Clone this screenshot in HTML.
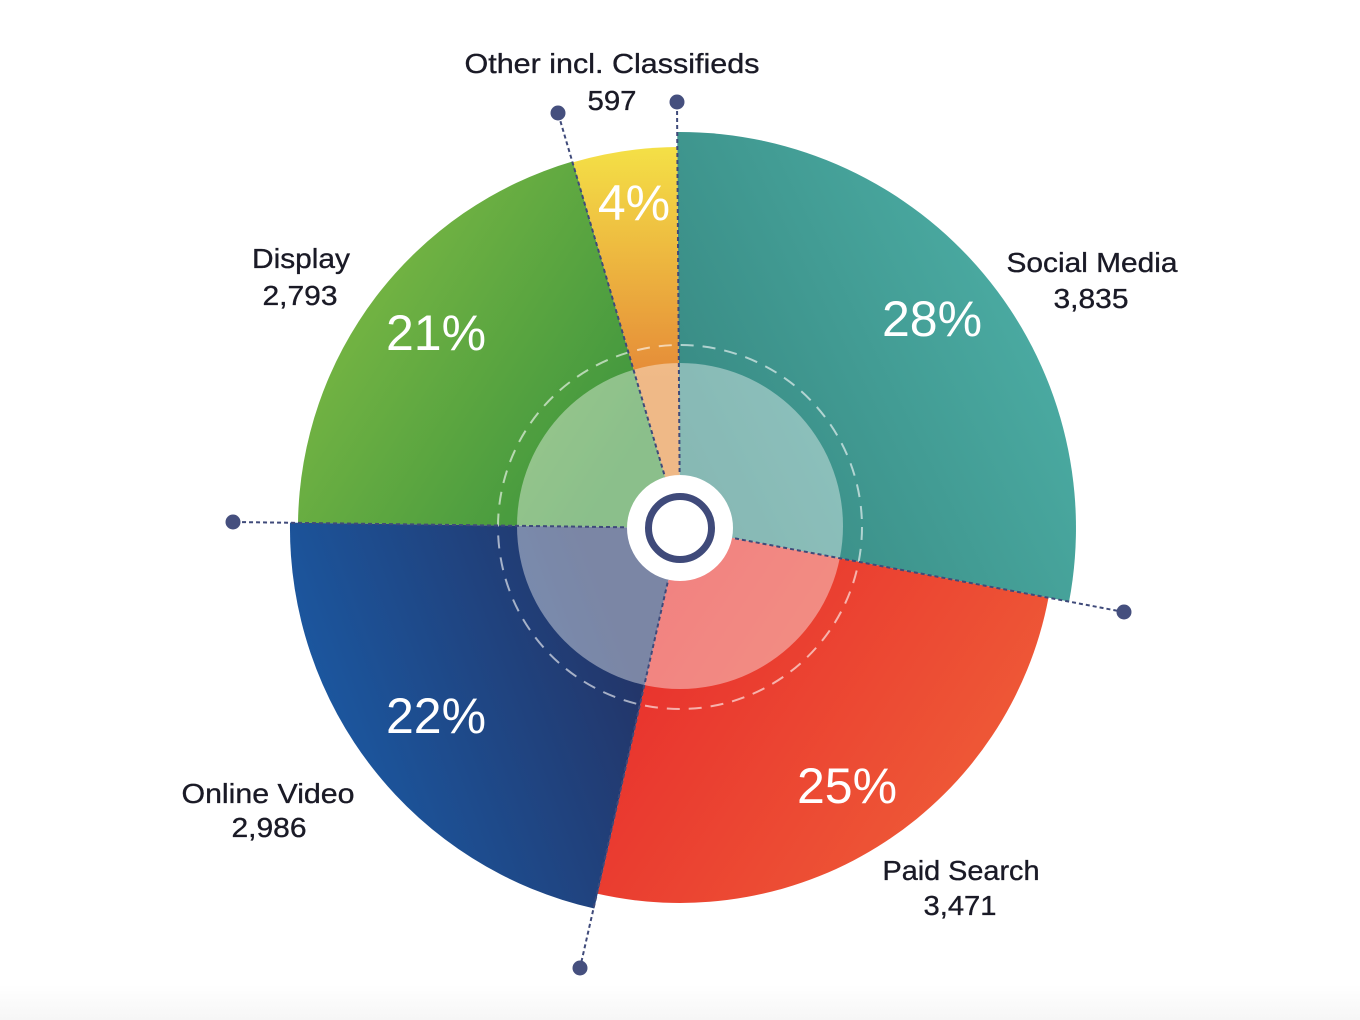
<!DOCTYPE html>
<html>
<head>
<meta charset="utf-8">
<style>
  html, body { margin: 0; padding: 0; background: #ffffff; }
  body { width: 1360px; height: 1020px; overflow: hidden; }
  svg { display: block; }
  .lbl { font-family: "Liberation Sans", sans-serif; font-size: 28px; fill: #1a1a26; stroke: #1a1a26; stroke-width: 0.35; text-anchor: middle; }
  .pct { font-family: "Liberation Sans", sans-serif; font-size: 50px; fill: #ffffff; text-anchor: middle; }
</style>
</head>
<body>
<svg width="1360" height="1020" viewBox="0 0 1360 1020" xmlns="http://www.w3.org/2000/svg">
  <defs>
    <linearGradient id="gTeal" gradientUnits="userSpaceOnUse" x1="700" y1="480" x2="1060" y2="300">
      <stop offset="0" stop-color="#388a83"/>
      <stop offset="1" stop-color="#4cada4"/>
    </linearGradient>
    <linearGradient id="gRed" gradientUnits="userSpaceOnUse" x1="640" y1="620" x2="1000" y2="860">
      <stop offset="0" stop-color="#e8302d"/>
      <stop offset="1" stop-color="#ef5f38"/>
    </linearGradient>
    <linearGradient id="gBlue" gradientUnits="userSpaceOnUse" x1="620" y1="640" x2="300" y2="760">
      <stop offset="0" stop-color="#23366a"/>
      <stop offset="1" stop-color="#1a5ba6"/>
    </linearGradient>
    <linearGradient id="gGreen" gradientUnits="userSpaceOnUse" x1="620" y1="470" x2="320" y2="280">
      <stop offset="0" stop-color="#3e953e"/>
      <stop offset="1" stop-color="#7bb843"/>
    </linearGradient>
    <linearGradient id="gYellow" gradientUnits="userSpaceOnUse" x1="640" y1="380" x2="640" y2="150">
      <stop offset="0" stop-color="#e58a38"/>
      <stop offset="1" stop-color="#f4df46"/>
    </linearGradient>
    <linearGradient id="gBottom" x1="0" y1="0" x2="0" y2="1">
      <stop offset="0" stop-color="#ffffff"/>
      <stop offset="1" stop-color="#f6f6f6"/>
    </linearGradient>
  </defs>

  <rect x="0" y="985" width="1360" height="35" fill="url(#gBottom)"/>

  <!-- slices -->
  <path d="M680 528 L677.24 132.01 A396 396 0 0 1 1069.1 601.5 Z" fill="url(#gTeal)"/>
  <path d="M680 528 L1048.5 597.6 A375 375 0 0 1 597.6 893.8 Z" fill="url(#gRed)"/>
  <path d="M680 528 L594.3 908.5 A390 390 0 0 1 290.0 522.6 Z" fill="url(#gBlue)"/>
  <path d="M680 528 L298.0 522.7 A382 382 0 0 1 572.8 161.4 Z" fill="url(#gGreen)"/>
  <path d="M680 528 L573.1 162.3 A381 381 0 0 1 677.3 147.0 Z" fill="url(#gYellow)"/>

  <!-- inner light overlay -->
  <circle cx="680" cy="526" r="163" fill="#ffffff" fill-opacity="0.4"/>
  <!-- dashed circle -->
  <circle cx="680" cy="527" r="182" fill="none" stroke="#ffffff" stroke-opacity="0.6" stroke-width="2" stroke-dasharray="13 9"/>

  <!-- boundary dotted lines -->
  <g stroke="#3f4a7a" stroke-width="2" stroke-dasharray="4 3" fill="none">
    <line x1="680" y1="528" x2="677" y2="102"/>
    <line x1="680" y1="528" x2="558" y2="113"/>
    <line x1="680" y1="528" x2="233" y2="522"/>
    <line x1="680" y1="528" x2="580" y2="968"/>
    <line x1="680" y1="528" x2="1124" y2="612"/>
  </g>

  <!-- end dots -->
  <g fill="#454f7e">
    <circle cx="677" cy="102" r="7.5"/>
    <circle cx="558" cy="113" r="7.5"/>
    <circle cx="233" cy="522" r="7.5"/>
    <circle cx="580" cy="968" r="7.5"/>
    <circle cx="1124" cy="612" r="7.5"/>
  </g>

  <!-- center -->
  <circle cx="680" cy="528" r="53" fill="#ffffff"/>
  <circle cx="680" cy="528" r="31.5" fill="none" stroke="#3f4a7a" stroke-width="7"/>

  <!-- percent labels -->
  <text class="pct" x="634" y="220">4%</text>
  <text class="pct" x="932" y="336">28%</text>
  <text class="pct" x="436" y="350">21%</text>
  <text class="pct" x="436" y="733">22%</text>
  <text class="pct" x="847" y="803">25%</text>

  <!-- category labels -->
  <text class="lbl" x="612" y="73" textLength="295" lengthAdjust="spacingAndGlyphs">Other incl. Classifieds</text>
  <text class="lbl" x="612" y="110" textLength="49" lengthAdjust="spacingAndGlyphs">597</text>

  <text class="lbl" x="1092" y="272" textLength="171" lengthAdjust="spacingAndGlyphs">Social Media</text>
  <text class="lbl" x="1091" y="308" textLength="75" lengthAdjust="spacingAndGlyphs">3,835</text>

  <text class="lbl" x="301" y="268" textLength="98" lengthAdjust="spacingAndGlyphs">Display</text>
  <text class="lbl" x="300" y="305" textLength="75" lengthAdjust="spacingAndGlyphs">2,793</text>

  <text class="lbl" x="268" y="803" textLength="173" lengthAdjust="spacingAndGlyphs">Online Video</text>
  <text class="lbl" x="269" y="837" textLength="75" lengthAdjust="spacingAndGlyphs">2,986</text>

  <text class="lbl" x="961" y="880" textLength="157" lengthAdjust="spacingAndGlyphs">Paid Search</text>
  <text class="lbl" x="960" y="915" textLength="73" lengthAdjust="spacingAndGlyphs">3,471</text>
</svg>
</body>
</html>
